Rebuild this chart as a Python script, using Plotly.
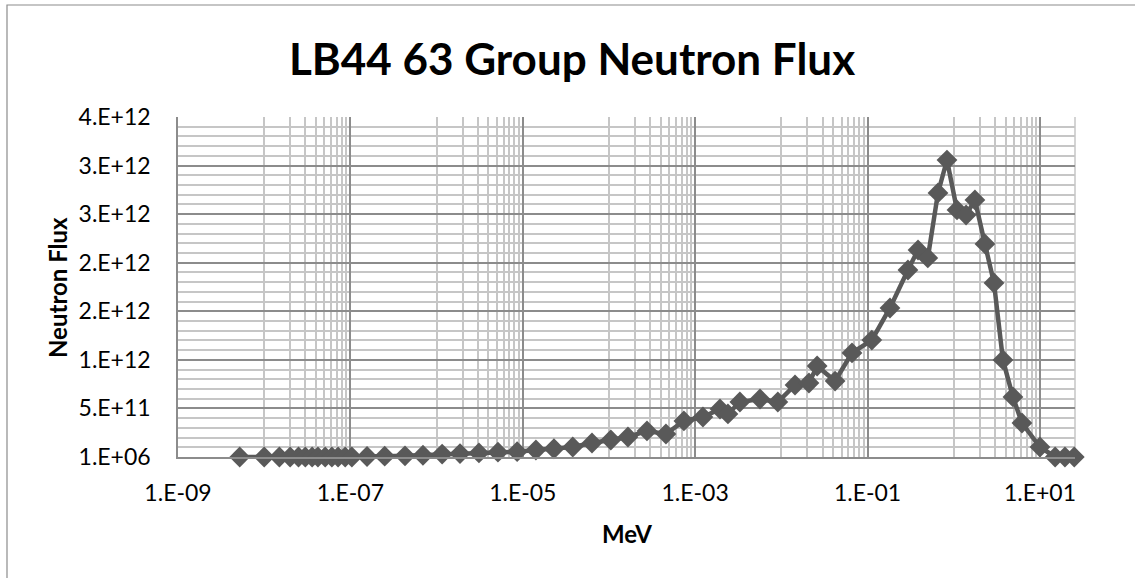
import plotly.graph_objects as go
import math

# ---- data ----
energy_mev = [
    5.2e-9, 1.0e-8, 1.5e-8, 2.0e-8, 2.5e-8, 3.0e-8, 3.6e-8, 4.2e-8, 5.1e-8, 6.1e-8,
    7.2e-8, 8.7e-8, 1.04e-7, 1.56e-7, 2.5e-7, 4.3e-7, 6.95e-7, 1.16e-6, 1.87e-6, 3.1e-6,
    5.15e-6, 8.6e-6, 1.42e-5, 2.3e-5, 3.8e-5, 6.35e-5, 1.05e-4, 1.66e-4, 2.76e-4, 4.58e-4,
    7.4e-4, 1.23e-3, 1.94e-3, 2.4e-3, 3.3e-3, 5.65e-3, 9.1e-3, 1.44e-2, 2.09e-2, 2.6e-2,
    4.2e-2, 6.6e-2, 0.112, 0.182, 0.294, 0.385, 0.50, 0.656, 0.834, 1.09,
    1.39, 1.76, 2.30, 2.93, 3.72, 4.86, 6.18, 10.0, 15.0, 19.5,
    25.0,
]
flux = [
    1e6, 1e6, 1e6, 1e6, 1e6, 1e6, 1e6, 1e6, 1e6, 1e6,
    1e6, 1e6, 1e6, 5e9, 8e9, 1.2e10, 1.8e10, 3.0e10, 3.5e10, 4.2e10,
    5.0e10, 5.5e10, 7.2e10, 8.5e10, 1.03e11, 1.44e11, 1.75e11, 2.06e11, 2.68e11, 2.37e11,
    3.71e11, 4.12e11, 4.94e11, 4.43e11, 5.66e11, 5.97e11, 5.66e11, 7.41e11, 7.62e11, 9.37e11,
    7.82e11, 1.071e12, 1.204e12, 1.534e12, 1.925e12, 2.131e12, 2.049e12, 2.718e12, 3.057e12, 2.543e12,
    2.491e12, 2.646e12, 2.193e12, 1.791e12, 0.999e12, 0.618e12, 0.350e12, 0.103e12, 1e6, 1e6,
    1e6,
]

y_tick_vals = [1e6, 5e11, 1e12, 1.5e12, 2e12, 2.5e12, 3e12, 3.5e12]
y_tick_text = ["1.E+06", "5.E+11", "1.E+12", "2.E+12", "2.E+12", "3.E+12", "3.E+12", "4.E+12"]
x_tick_vals = [1e-9, 1e-7, 1e-5, 1e-3, 1e-1, 1e1]
x_tick_text = ["1.E-09", "1.E-07", "1.E-05", "1.E-03", "1.E-01", "1.E+01"]

# minor gridlines (Excel log-base-100 style)
x_minor = [k * 10.0 ** d for d in range(-8, 1, 2) for k in range(1, 10)]
y_minor = [i * 1e11 for i in range(0, 36) if i % 5 != 0]

FONT = "Lato"
LINE_COL = "#595959"
MAJOR_GRID = "#8c8c8c"
MINOR_GRID = "#c6c6c6"

fig = go.Figure()
fig.add_trace(go.Scatter(
    x=energy_mev, y=flux, mode="lines+markers",
    line=dict(color=LINE_COL, width=4.5),
    marker=dict(symbol="diamond", size=16, color=LINE_COL),
    cliponaxis=False, showlegend=False,
))

W, H = 1135, 578
L, R, T, B = 178, 1075, 117, 457

fig.update_layout(
    width=W, height=H,
    margin=dict(l=L, r=W - R, t=T, b=H - B),
    paper_bgcolor="white", plot_bgcolor="white",
    title=dict(text="<b>LB44 63 Group Neutron Flux</b>", x=0.504, xref="container",
               y=1 - 60 / H, yref="container", xanchor="center", yanchor="middle",
               font=dict(family=FONT, size=44, color="black")),
    font=dict(family=FONT, color="black"),
)

fig.update_xaxes(
    type="log", range=[-9, math.log10(25.5)],
    tickvals=x_tick_vals, ticktext=x_tick_text,
    tickfont=dict(family=FONT, size=23, color="black"),
    ticks="outside", ticklen=15, tickcolor="rgba(0,0,0,0)",
    showgrid=True, gridcolor=MAJOR_GRID, gridwidth=1.5,
    minor=dict(tickvals=x_minor, showgrid=True, gridcolor=MINOR_GRID, gridwidth=1.5, ticks=""),
    showline=True, linecolor=MAJOR_GRID, linewidth=1.5,
    zeroline=False,
)
fig.update_yaxes(
    range=[1e6, 3.5e12 + 1e6],
    tickvals=y_tick_vals, ticktext=y_tick_text,
    tickfont=dict(family=FONT, size=23, color="black"),
    ticks="outside", ticklen=21, tickcolor="rgba(0,0,0,0)",
    showgrid=True, gridcolor=MAJOR_GRID, gridwidth=1.5,
    minor=dict(tickvals=y_minor, showgrid=True, gridcolor=MINOR_GRID, gridwidth=1.5, ticks=""),
    showline=True, linecolor=MAJOR_GRID, linewidth=1.5,
    zeroline=False,
)

# plot-area right border (light)
fig.add_shape(type="line", xref="paper", yref="paper", x0=1, x1=1, y0=0, y1=1,
              line=dict(color=MINOR_GRID, width=1.5), layer="below")

# chart-area border
pw, ph = R - L, B - T
fig.add_shape(type="rect", xref="paper", yref="paper",
              x0=(7 - L) / pw, x1=(1150 - L) / pw, y0=(B - 600) / ph, y1=(B - 5) / ph,
              line=dict(color="#8c8c8c", width=1.2), fillcolor="rgba(0,0,0,0)", layer="above")

# axis titles
fig.add_annotation(text="<b>MeV</b>", xref="paper", yref="paper",
                   x=0.5, y=(B - 533) / ph, xanchor="center", yanchor="middle",
                   showarrow=False, font=dict(family=FONT, size=24, color="black"))
fig.add_annotation(text="<b>Neutron Flux</b>", xref="paper", yref="paper",
                   x=(57 - L) / pw, y=0.5, xanchor="center", yanchor="middle", textangle=-90,
                   showarrow=False, font=dict(family=FONT, size=24, color="black"))

fig.write_html("out.html")
